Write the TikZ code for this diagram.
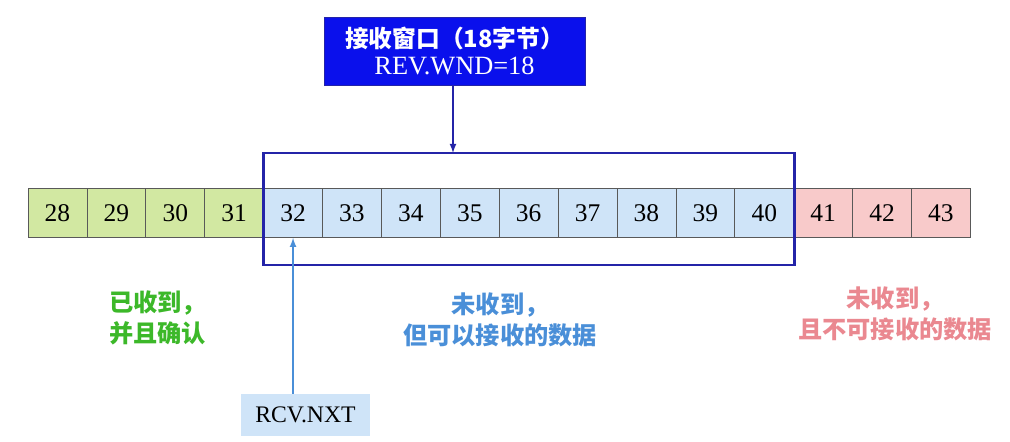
\documentclass[tikz,border=0pt]{standalone}
\usepackage{fontspec}
\setmainfont{Liberation Serif}
\newfontfamily\cjk{Noto Sans CJK SC}
\usetikzlibrary{positioning}

\definecolor{okgreen}{HTML}{D2E8A2}
\definecolor{okblue}{HTML}{CFE4F8}
\definecolor{okred}{HTML}{F8CACA}
\definecolor{wndblue}{HTML}{2424A8}
\definecolor{boxblue}{HTML}{0A10EC}
\definecolor{txtgreen}{HTML}{3CB829}
\definecolor{txtblue}{HTML}{4A8FD8}
\definecolor{txtred}{HTML}{EA8890}

\begin{document}
\begin{tikzpicture}[x=0.02cm,y=-0.02cm]
\tikzstyle{every node}=[font=\fontsize{14.5}{17}\selectfont]
\tikzstyle{cell}=[draw=black!65,minimum width=1.178cm,minimum height=0.98cm,inner sep=0pt]
\tikzstyle{note}=[font=\cjk\bfseries\fontsize{13.8}{17.5}\selectfont]
\useasboundingbox (0,0) rectangle (1010,442);

% sequence numbers
\foreach \n [evaluate=\n as \cx using {57.45+(\n-28)*58.9}] in {28,...,31}
  \node[cell,fill=okgreen] (c\n) at (\cx,213) {\n};
\foreach \n [evaluate=\n as \cx using {57.45+(\n-28)*58.9}] in {32,...,40}
  \node[cell,fill=okblue] (c\n) at (\cx,213) {\n};
\foreach \n [evaluate=\n as \cx using {57.45+(\n-28)*58.9}] in {41,...,43}
  \node[cell,fill=okred] (c\n) at (\cx,213) {\n};

% receive window
\draw[wndblue,line width=1.7pt] (263.6,153) rectangle (794.8,265);
\coordinate (wtop) at (453,153);

\node[draw=wndblue,fill=boxblue,text=white,minimum width=5.22cm,minimum height=1.36cm,
  align=center,inner sep=0pt,font=\fontsize{15}{15.5}\selectfont] (wnd) at (454.5,51)
  {{\cjk\bfseries\fontsize{13.5}{15}\selectfont 接收窗口（18字节）}\\REV.WND=18};
\draw[wndblue,line width=0.8pt,-latex] (wnd.south -| wtop) -- (wtop);

\node[fill=okblue,minimum width=2.58cm,minimum height=0.84cm,inner sep=0pt,
  font=\fontsize{13.5}{15}\selectfont] (nxt) at (305.5,415) {RCV.NXT};
\draw[txtblue,line width=0.8pt,-latex] (nxt.north -| c32.south) -- (c32.south);

% labels
\node[note,text=txtgreen,align=left,anchor=west] (acked) at (103,318) {已收到，\\并且确认};
\node[note,text=txtblue,align=center] (usable) at (500,320) {未收到，\\但可以接收的数据};
\node[note,text=txtred,align=center] (notusable) at (895,314) {未收到，\\且不可接收的数据};

\end{tikzpicture}
\end{document}
